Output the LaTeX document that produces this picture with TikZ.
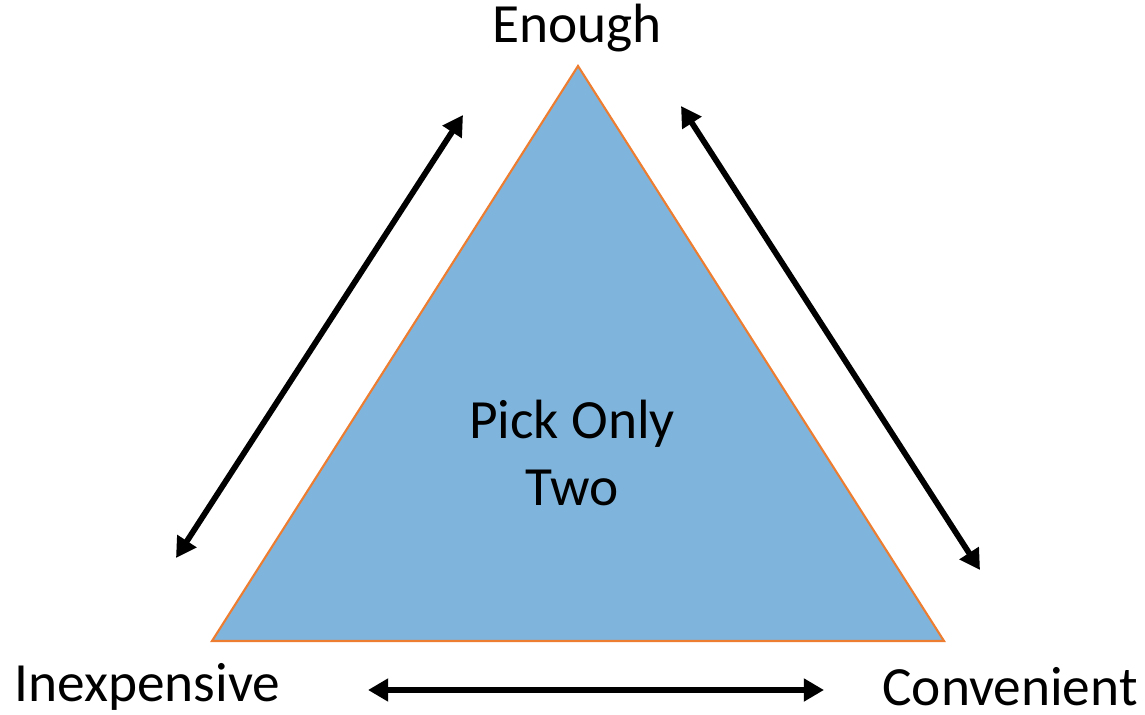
\documentclass[tikz,border=0pt]{standalone}
\usepackage{fontspec}
\setmainfont{Carlito}
\usetikzlibrary{arrows.meta}
\definecolor{triblue}{RGB}{127,181,221}
\definecolor{triorange}{RGB}{237,125,49}
\tikzset{
  lbl/.style={font=\fontsize{31.5}{38.5}\selectfont, inner sep=0pt},
  dbl/.style={line width=3.3pt, {Triangle[length=11.5pt,width=12.5pt]}-{Triangle[length=11.5pt,width=12.5pt]}}
}
\begin{document}
\begin{tikzpicture}[x=0.02cm,y=-0.02cm]
\useasboundingbox (0,0) rectangle (1145,715);
\coordinate (T) at (578,66);
\coordinate (L) at (212,641);
\coordinate (R) at (944,641);
\filldraw[fill=triblue, draw=triorange, line width=1.2pt, line join=miter] (T) -- (R) -- (L) -- cycle;
\node[lbl] (enough) at (577,28) {Enough};
\node[lbl, anchor=west] (inexp) at (14,687) {Inexpensive};
\node[lbl, anchor=east] (conv) at (1138,687) {Convenient};
\node[lbl, align=center] (pick) at (572,453) {Pick Only\\Two};
\coordinate (a1) at (176,558);
\coordinate (a2) at (463,115);
\coordinate (b1) at (681,106);
\coordinate (b2) at (980,570);
\coordinate (c1) at (368,690);
\coordinate (c2) at (824,690);
\draw[dbl] (a1) -- (a2);
\draw[dbl] (b1) -- (b2);
\draw[dbl] (c1) -- (c2);
\end{tikzpicture}
\end{document}
